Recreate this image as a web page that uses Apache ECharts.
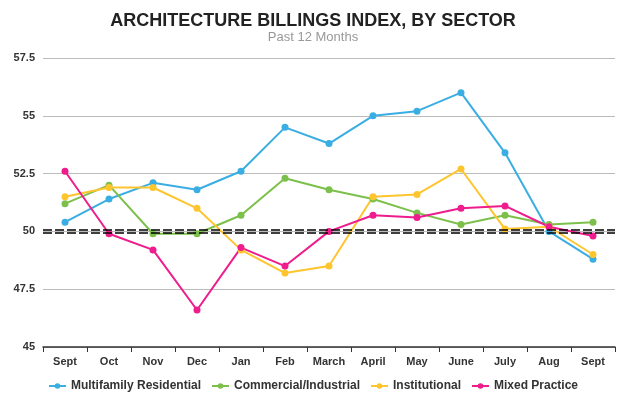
<!DOCTYPE html>
<html>
<head>
<meta charset="utf-8">
<script src="https://cdn.jsdelivr.net/npm/echarts@6/dist/echarts.min.js"></script>
<style>
  html, body { margin: 0; padding: 0; background: #fff; }
  #main { width: 626px; height: 396px; }
</style>
</head>
<body>
<div id="main"></div>
<script>
// months on the x axis
var months = ['Sept', 'Oct', 'Nov', 'Dec', 'Jan', 'Feb', 'March', 'April', 'May', 'June', 'July', 'Aug', 'Sept'];

// index values
var multifamily = [50.4, 51.4, 52.1, 51.8, 52.6, 54.5, 53.8, 55.0, 55.2, 56.0, 53.4, 50.0, 48.8];
var commercial = [51.2, 52.0, 49.9, 49.9, 50.7, 52.3, 51.8, 51.4, 50.8, 50.3, 50.7, 50.3, 50.4];
var institutional = [51.5, 51.9, 51.9, 51.0, 49.2, 48.2, 48.5, 51.5, 51.6, 52.7, 50.1, 50.2, 49.0];
var mixed = [52.6, 49.9, 49.2, 46.6, 49.3, 48.5, 50.0, 50.7, 50.6, 51.0, 51.1, 50.2, 49.8];

var font = '"Liberation Sans", Arial, sans-serif';

function line(name, data, color) {
  return {
    name: name,
    type: 'line',
    data: data,
    symbol: 'circle',
    symbolSize: 7,
    color: color,
    lineStyle: { width: 2, color: color },
    itemStyle: { color: color }
  };
}

var chart = echarts.init(document.getElementById('main'));

var series = [
  line('Multifamily Residential', multifamily, '#3aaee2'),
  line('Commercial/Industrial', commercial, '#7cc04b'),
  line('Institutional', institutional, '#fec52e'),
  line('Mixed Practice', mixed, '#ee1c8c')
];

// the double dashed line at 50
series[0].markLine = {
  silent: true,
  symbol: 'none',
  label: { show: false },
  lineStyle: { color: '#000', type: [9, 3], width: 1.5 },
  data: [{ yAxis: 50.07 }, { yAxis: 49.93 }]
};

chart.setOption({
  animation: false,
  title: {
    text: 'ARCHITECTURE BILLINGS INDEX, BY SECTOR',
    subtext: 'Past 12 Months',
    left: 'center',
    top: 7,
    itemGap: 1,
    textStyle: { fontFamily: font, fontSize: 18, fontWeight: 'bold', color: '#222' },
    subtextStyle: { fontFamily: font, fontSize: 13, color: '#999' }
  },
  legend: {
    top: 375,
    left: 'center',
    itemWidth: 17,
    itemHeight: 7,
    itemGap: 10,
    textStyle: { fontFamily: font, fontSize: 12, fontWeight: 'bold', color: '#333', padding: [0, 0, 0, 0] },
    data: ['Multifamily Residential', 'Commercial/Industrial', 'Institutional', 'Mixed Practice']
  },
  grid: { left: 43, right: 11, top: 58, bottom: 49 },
  xAxis: {
    type: 'category',
    data: months,
    boundaryGap: true,
    axisLine: { lineStyle: { color: '#333', width: 1.5 } },
    axisTick: { show: true, length: 5, lineStyle: { color: '#333' } },
    axisLabel: { fontFamily: font, fontSize: 11, fontWeight: 'bold', color: '#333', margin: 9 }
  },
  yAxis: {
    type: 'value',
    min: 45,
    max: 57.5,
    interval: 2.5,
    axisLine: { show: false },
    axisTick: { show: false },
    axisLabel: { fontFamily: font, fontSize: 11, fontWeight: 'bold', color: '#333', margin: 8 },
    splitLine: { lineStyle: { color: '#bbb', width: 1 } }
  },
  series: series
});
</script>
</body>
</html>
